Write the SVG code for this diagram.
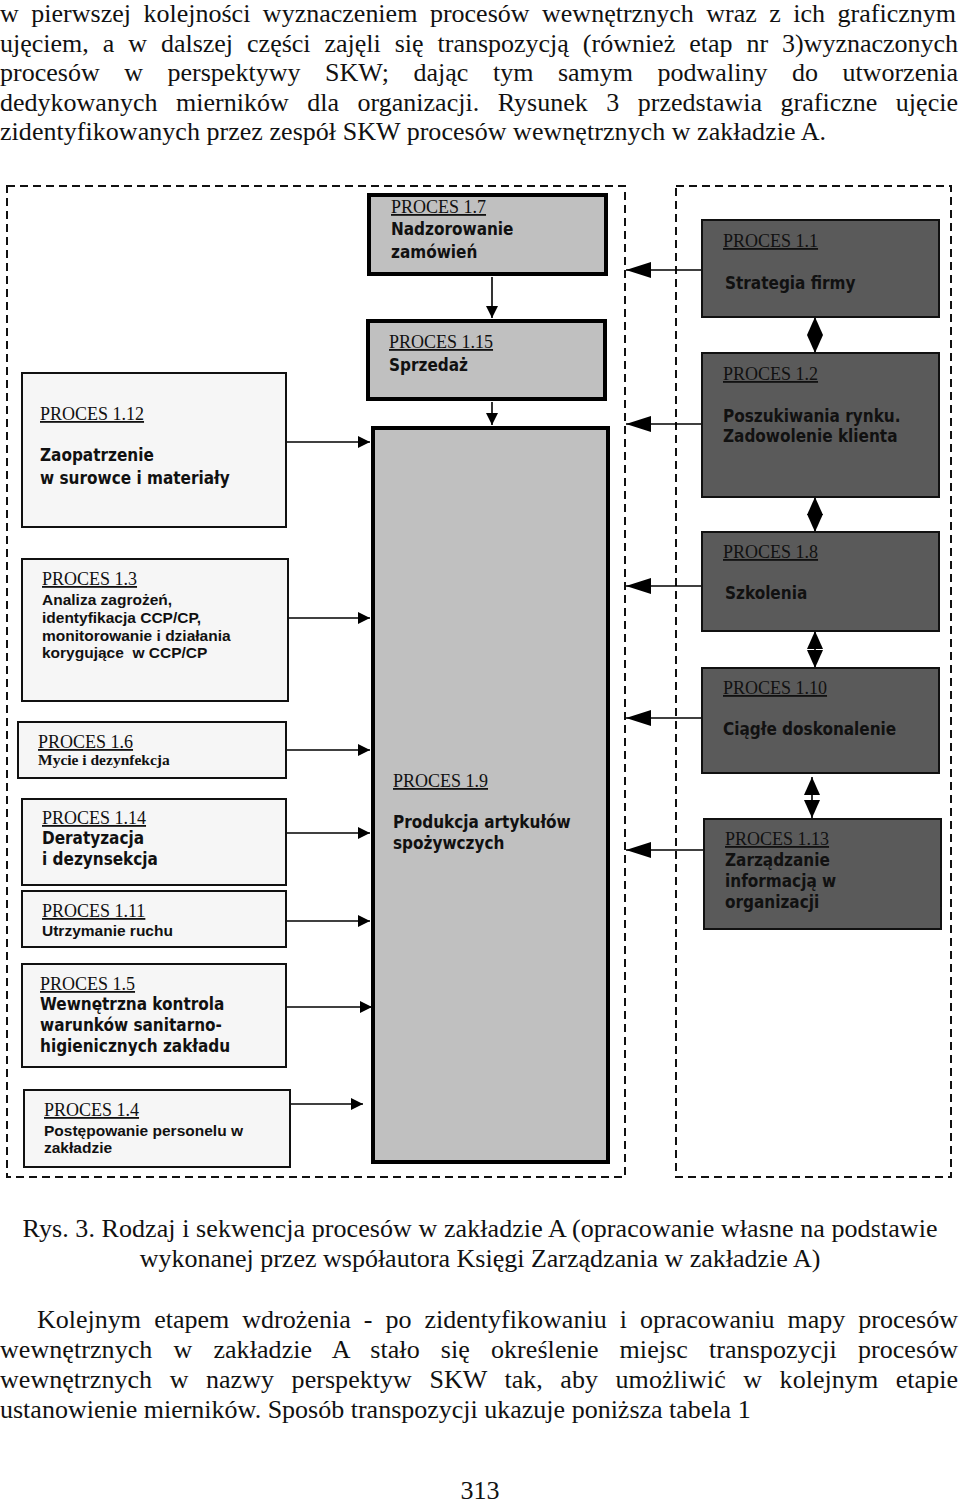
<svg xmlns="http://www.w3.org/2000/svg" width="960" height="1505" viewBox="0 0 960 1505">
<style>
.para{font-family:"Liberation Serif","Times New Roman",serif;font-size:26px;fill:#111}
.cont{fill:none;stroke:#111;stroke-width:2;stroke-dasharray:8 5}
.lbox{fill:#f6f6f6;stroke:#111;stroke-width:2}
.mbox{fill:#c0c0c0;stroke:#000;stroke-width:4}
.rbox{fill:#5a5a5a;stroke:#111;stroke-width:2}
.ttl{font-family:"Liberation Serif","Times New Roman",serif;font-size:18px;fill:#111;text-decoration:underline}
.body{font-family:"DejaVu Sans Condensed","DejaVu Sans",sans-serif;font-stretch:condensed;font-weight:bold;font-size:17px;fill:#111}
.ar{font-family:"Liberation Sans",Arial,sans-serif;font-weight:bold;font-size:15.5px;fill:#111}
.sb{font-family:"Liberation Serif","Times New Roman",serif;font-weight:bold;font-size:15.5px;fill:#111}
.ln{stroke:#000;stroke-width:1.6;fill:none}
</style>
<defs>
<marker id="ah" markerUnits="userSpaceOnUse" markerWidth="14" markerHeight="14" refX="12" refY="6" orient="auto"><path d="M0,0 L12,6 L0,12 z" fill="#000"/></marker>
<marker id="ahv" markerUnits="userSpaceOnUse" markerWidth="14" markerHeight="14" refX="12" refY="6" orient="auto"><path d="M0,0 L12,6 L0,12 z" fill="#000"/></marker>
<marker id="big" markerUnits="userSpaceOnUse" markerWidth="27" markerHeight="16" refX="25" refY="8" orient="auto"><path d="M0,0 L25,8 L0,16 z" fill="#000"/></marker>
<marker id="dbl" markerUnits="userSpaceOnUse" markerWidth="20" markerHeight="16" refX="18" refY="8" orient="auto-start-reverse"><path d="M0,0 L18,8 L0,16 z" fill="#000"/></marker>
</defs>

<g id="text-top" class="para">
<text x="0" y="22" word-spacing="6" textLength="956" lengthAdjust="spacing">w pierwszej kolejności wyznaczeniem procesów wewnętrznych wraz z ich graficznym</text>
<text x="0" y="52" word-spacing="7.5" textLength="958" lengthAdjust="spacing">ujęciem, a w dalszej części zajęli się transpozycją (również etap nr 3)wyznaczonych</text>
<text x="0" y="81" word-spacing="18" textLength="958" lengthAdjust="spacing">procesów w perspektywy SKW; dając tym samym podwaliny do utworzenia</text>
<text x="0" y="111" word-spacing="12" textLength="958" lengthAdjust="spacing">dedykowanych mierników dla organizacji. Rysunek 3 przedstawia graficzne ujęcie</text>
<text x="0" y="140" textLength="826" lengthAdjust="spacing">zidentyfikowanych przez zespół SKW procesów wewnętrznych w zakładzie A.</text>
</g>

<g id="containers">
<rect class="cont" x="7" y="186" width="618" height="991"/>
<rect class="cont" x="676" y="186" width="275" height="991"/>
</g>

<g id="connectors">
<line class="ln" x1="492" y1="277" x2="492" y2="318" marker-end="url(#ahv)"/>
<line class="ln" x1="492" y1="402" x2="492" y2="425" marker-end="url(#ahv)"/>
<line class="ln" x1="287" y1="442" x2="370" y2="442" marker-end="url(#ah)"/>
<line class="ln" x1="289" y1="618" x2="370" y2="618" marker-end="url(#ah)"/>
<line class="ln" x1="287" y1="750" x2="370" y2="750" marker-end="url(#ah)"/>
<line class="ln" x1="287" y1="833" x2="370" y2="833" marker-end="url(#ah)"/>
<line class="ln" x1="287" y1="921" x2="370" y2="921" marker-end="url(#ah)"/>
<line class="ln" x1="287" y1="1007" x2="372" y2="1007" marker-end="url(#ah)"/>
<line class="ln" x1="291" y1="1104" x2="363" y2="1104" marker-end="url(#ah)"/>
<line class="ln" x1="702" y1="270" x2="626" y2="270" marker-end="url(#big)"/>
<line class="ln" x1="702" y1="424" x2="626" y2="424" marker-end="url(#big)"/>
<line class="ln" x1="702" y1="586" x2="626" y2="586" marker-end="url(#big)"/>
<line class="ln" x1="702" y1="718" x2="626" y2="718" marker-end="url(#big)"/>
<line class="ln" x1="704" y1="850" x2="626" y2="850" marker-end="url(#big)"/>
<line class="ln" x1="815" y1="317" x2="815" y2="353" marker-start="url(#dbl)" marker-end="url(#dbl)"/>
<line class="ln" x1="815" y1="497" x2="815" y2="532" marker-start="url(#dbl)" marker-end="url(#dbl)"/>
<line class="ln" x1="815" y1="631" x2="815" y2="668" marker-start="url(#dbl)" marker-end="url(#dbl)"/>
<line class="ln" x1="812" y1="777" x2="812" y2="818" marker-start="url(#dbl)" marker-end="url(#dbl)"/>
</g>

<g id="p1-7">
<rect class="mbox" x="369" y="195" width="237" height="79"/>
<text class="ttl" x="391" y="213">PROCES 1.7</text>
<text class="body" x="391" y="235">Nadzorowanie</text>
<text class="body" x="391" y="258">zamówień</text>
</g>
<g id="p1-15">
<rect class="mbox" x="368" y="321" width="237" height="78"/>
<text class="ttl" x="389" y="348">PROCES 1.15</text>
<text class="body" x="389" y="371">Sprzedaż</text>
</g>
<g id="p1-9">
<rect class="mbox" x="373" y="428" width="235" height="734"/>
<text class="ttl" x="393" y="787">PROCES 1.9</text>
<text class="body" x="393" y="828">Produkcja artykułów</text>
<text class="body" x="393" y="849">spożywczych</text>
</g>

<g id="p1-12">
<rect class="lbox" x="22" y="373" width="264" height="154"/>
<text class="ttl" x="40" y="420">PROCES 1.12</text>
<text class="body" x="40" y="461">Zaopatrzenie</text>
<text class="body" x="40" y="484">w surowce i materiały</text>
</g>
<g id="p1-3">
<rect class="lbox" x="22" y="559" width="266" height="142"/>
<text class="ttl" x="42" y="585">PROCES 1.3</text>
<text class="ar" x="42" y="605">Analiza zagrożeń,</text>
<text class="ar" x="42" y="623">identyfikacja CCP/CP,</text>
<text class="ar" x="42" y="641">monitorowanie i działania</text>
<text class="ar" x="42" y="658" xml:space="preserve">korygujące  w CCP/CP</text>
</g>
<g id="p1-6">
<rect class="lbox" x="18" y="722" width="268" height="56"/>
<text class="ttl" x="38" y="748">PROCES 1.6</text>
<text class="sb" x="38" y="765">Mycie i dezynfekcja</text>
</g>
<g id="p1-14">
<rect class="lbox" x="22" y="799" width="264" height="86"/>
<text class="ttl" x="42" y="824">PROCES 1.14</text>
<text class="body" x="42" y="844">Deratyzacja</text>
<text class="body" x="42" y="865">i dezynsekcja</text>
</g>
<g id="p1-11">
<rect class="lbox" x="22" y="891" width="264" height="56"/>
<text class="ttl" x="42" y="917">PROCES 1.11</text>
<text class="ar" x="42" y="936">Utrzymanie ruchu</text>
</g>
<g id="p1-5">
<rect class="lbox" x="22" y="964" width="264" height="103"/>
<text class="ttl" x="40" y="990">PROCES 1.5</text>
<text class="body" x="40" y="1010">Wewnętrzna kontrola</text>
<text class="body" x="40" y="1031">warunków sanitarno-</text>
<text class="body" x="40" y="1052">higienicznych zakładu</text>
</g>
<g id="p1-4">
<rect class="lbox" x="24" y="1090" width="266" height="77"/>
<text class="ttl" x="44" y="1116">PROCES 1.4</text>
<text class="ar" x="44" y="1136">Postępowanie personelu w</text>
<text class="ar" x="44" y="1153">zakładzie</text>
</g>

<g id="p1-1">
<rect class="rbox" x="702" y="220" width="237" height="97"/>
<text class="ttl" x="723" y="247">PROCES 1.1</text>
<text class="body" x="725" y="289">Strategia firmy</text>
</g>
<g id="p1-2">
<rect class="rbox" x="702" y="353" width="237" height="144"/>
<text class="ttl" x="723" y="380">PROCES 1.2</text>
<text class="body" x="723" y="422">Poszukiwania rynku.</text>
<text class="body" x="723" y="442">Zadowolenie klienta</text>
</g>
<g id="p1-8">
<rect class="rbox" x="702" y="532" width="237" height="99"/>
<text class="ttl" x="723" y="558">PROCES 1.8</text>
<text class="body" x="725" y="599">Szkolenia</text>
</g>
<g id="p1-10">
<rect class="rbox" x="702" y="668" width="237" height="105"/>
<text class="ttl" x="723" y="694">PROCES 1.10</text>
<text class="body" x="723" y="735">Ciągłe doskonalenie</text>
</g>
<g id="p1-13">
<rect class="rbox" x="704" y="819" width="237" height="110"/>
<text class="ttl" x="725" y="845">PROCES 1.13</text>
<text class="body" x="725" y="866">Zarządzanie</text>
<text class="body" x="725" y="887">informacją w</text>
<text class="body" x="725" y="908">organizacji</text>
</g>

<g id="text-bottom" class="para">
<text x="480" y="1237" text-anchor="middle" textLength="915" lengthAdjust="spacing">Rys. 3. Rodzaj i sekwencja procesów w zakładzie A (opracowanie własne na podstawie</text>
<text x="480" y="1267" text-anchor="middle">wykonanej przez współautora Księgi Zarządzania w zakładzie A)</text>
<text x="37" y="1328" word-spacing="6.5" textLength="921" lengthAdjust="spacing">Kolejnym etapem wdrożenia - po zidentyfikowaniu i opracowaniu mapy procesów</text>
<text x="0" y="1358" word-spacing="14.5" textLength="958" lengthAdjust="spacing">wewnętrznych w zakładzie A stało się określenie miejsc transpozycji procesów</text>
<text x="0" y="1388" word-spacing="11" textLength="958" lengthAdjust="spacing">wewnętrznych w nazwy perspektyw SKW tak, aby umożliwić w kolejnym etapie</text>
<text x="0" y="1418">ustanowienie mierników. Sposób transpozycji ukazuje poniższa tabela 1</text>
<text x="480" y="1499" text-anchor="middle">313</text>
</g>
</svg>
